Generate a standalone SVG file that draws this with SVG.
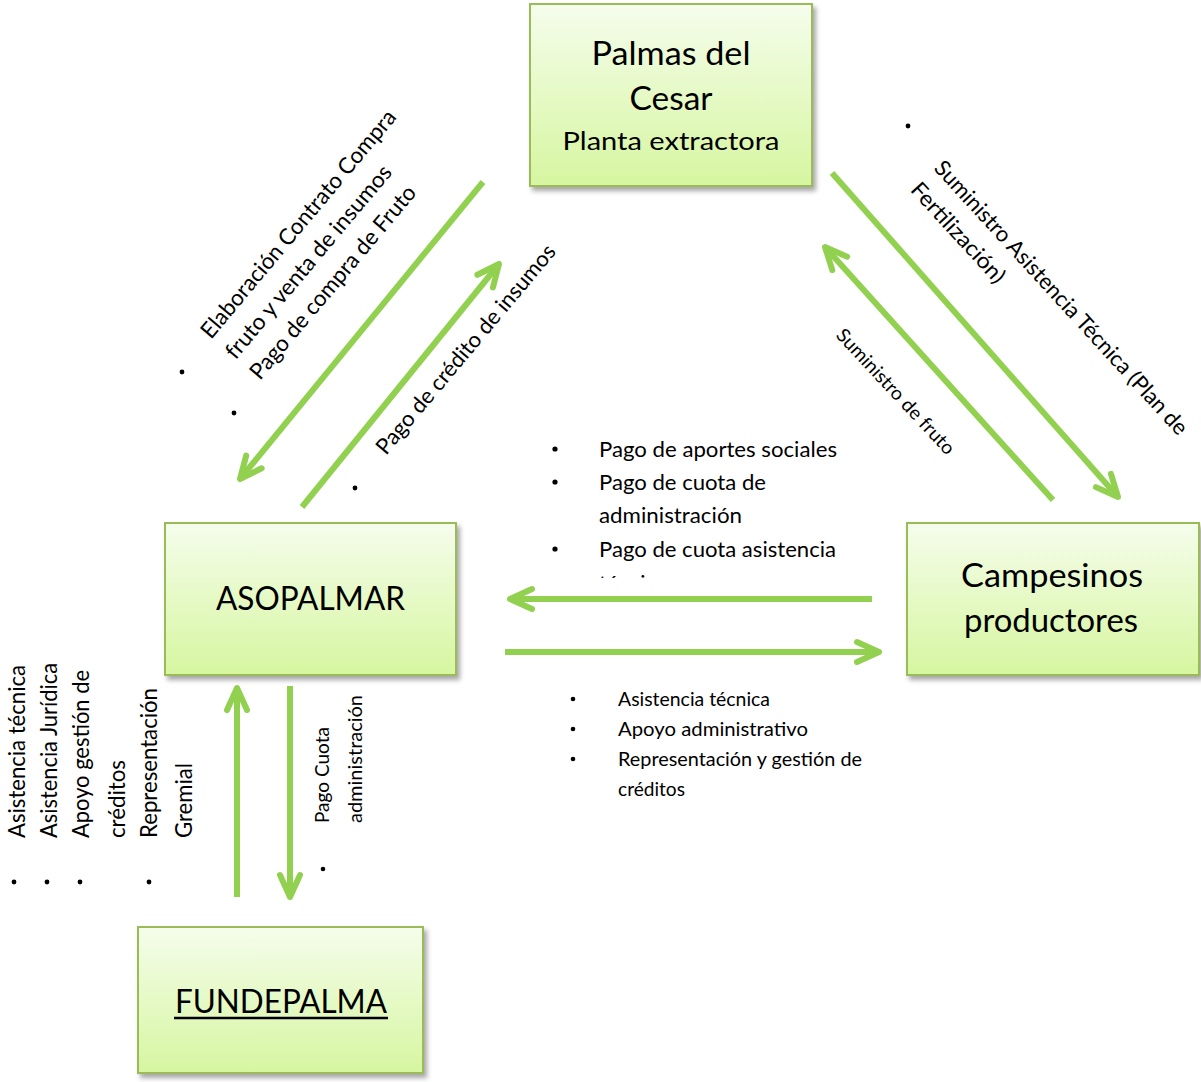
<svg xmlns="http://www.w3.org/2000/svg" width="1201" height="1082" viewBox="0 0 1201 1082">
<style>
.box{fill:url(#gf);stroke:#9bbb59;stroke-width:2;filter:url(#sh)}
.t{font-family:Lato,"Liberation Sans",sans-serif;fill:#000}
.big{font-size:33px;text-anchor:middle}
.conn{stroke:#92d050;stroke-width:6;fill:none;marker-end:url(#ah)}
.bul{fill:#000}
</style>
<defs>
<linearGradient id="gf" x1="0" y1="0" x2="0" y2="1">
<stop offset="0" stop-color="#f5fdec"/>
<stop offset="1" stop-color="#d6f6a0"/>
</linearGradient>
<filter id="sh" x="-10%" y="-10%" width="125%" height="130%">
<feDropShadow dx="3" dy="4" stdDeviation="2.5" flood-color="#000" flood-opacity="0.35"/>
</filter>
<marker id="ah" markerUnits="userSpaceOnUse" viewBox="-30 -16 36 32" markerWidth="36" markerHeight="32" refX="0" refY="0" orient="auto" overflow="visible">
<path d="M-22,-10 L0,0 L-22,10" fill="none" stroke="#92d050" stroke-width="6" stroke-linecap="round" stroke-linejoin="round"/>
</marker>
<clipPath id="clipMid"><rect x="500" y="420" width="400" height="158"/></clipPath>
</defs>

<g id="connectors">
<line class="conn" x1="483" y1="182" x2="240" y2="479"/>
<line class="conn" x1="302" y1="507" x2="499" y2="264"/>
<line class="conn" x1="832" y1="173" x2="1118" y2="497"/>
<line class="conn" x1="1053" y1="500" x2="825" y2="247"/>
<line class="conn" x1="872" y1="599" x2="510" y2="599"/>
<line class="conn" x1="505" y1="652" x2="879" y2="652"/>
<line class="conn" x1="237" y1="897" x2="237" y2="688"/>
<line class="conn" x1="290" y1="686" x2="290" y2="897"/>
</g>

<g id="node-palmas">
<rect class="box" x="530" y="4" width="282" height="182"/>
<text class="t big" x="671" y="65" textLength="159" lengthAdjust="spacingAndGlyphs">Palmas del</text>
<text class="t big" x="671" y="110" textLength="83" lengthAdjust="spacingAndGlyphs">Cesar</text>
<text class="t" x="671" y="150" font-size="25.5" text-anchor="middle" textLength="217" lengthAdjust="spacingAndGlyphs">Planta extractora</text>
</g>

<g id="node-asopalmar">
<rect class="box" x="165" y="523" width="291" height="152"/>
<text class="t big" x="310.5" y="610" textLength="189" lengthAdjust="spacingAndGlyphs">ASOPALMAR</text>
</g>

<g id="node-campesinos">
<rect class="box" x="907" y="523" width="292" height="152"/>
<text class="t big" x="1052" y="587" textLength="182" lengthAdjust="spacingAndGlyphs">Campesinos</text>
<text class="t big" x="1051" y="632" textLength="174" lengthAdjust="spacingAndGlyphs">productores</text>
</g>

<g id="node-fundepalma">
<rect class="box" x="138" y="927" width="285" height="146"/>
<text class="t big" x="281" y="1013" textLength="212" lengthAdjust="spacingAndGlyphs">FUNDEPALMA</text>
<line x1="174" y1="1018" x2="388" y2="1018" stroke="#000" stroke-width="2.4"/>
</g>

<g id="labels">
<text class="t" font-size="22.5" transform="translate(211,340) rotate(-50)" textLength="290" lengthAdjust="spacingAndGlyphs">Elaboración Contrato Compra</text>
<text class="t" font-size="22.5" transform="translate(235.5,360.6) rotate(-50)" textLength="245" lengthAdjust="spacingAndGlyphs">fruto y venta de insumos</text>
<text class="t" font-size="22.5" transform="translate(260,381) rotate(-50)" textLength="245" lengthAdjust="spacingAndGlyphs">Pago de compra de Fruto</text>
<text class="t" font-size="22" transform="translate(386,456) rotate(-50)" textLength="266" lengthAdjust="spacingAndGlyphs">Pago de crédito de insumos</text>
<circle class="bul" cx="182" cy="372" r="2.4"/>
<circle class="bul" cx="234" cy="413" r="2.4"/>
<circle class="bul" cx="355" cy="488" r="2.4"/>

<circle class="bul" cx="908" cy="126" r="2.4"/>
<text class="t" font-size="22" transform="translate(933,169) rotate(47.5)" textLength="363" lengthAdjust="spacingAndGlyphs">Suministro Asistencia Técnica (Plan de</text>
<text class="t" font-size="22" transform="translate(909.4,190.6) rotate(47.5)" textLength="128" lengthAdjust="spacingAndGlyphs">Fertilización)</text>
<text class="t" font-size="19" transform="translate(835,336) rotate(47)" textLength="164" lengthAdjust="spacingAndGlyphs">Suministro de fruto</text>

<g clip-path="url(#clipMid)">
<circle class="bul" cx="555" cy="449" r="2.6"/>
<circle class="bul" cx="555" cy="482" r="2.6"/>
<circle class="bul" cx="555" cy="549" r="2.6"/>
<text class="t" font-size="21.5" x="599" y="457" textLength="238" lengthAdjust="spacingAndGlyphs">Pago de aportes sociales</text>
<text class="t" font-size="21.5" x="599" y="490" textLength="167" lengthAdjust="spacingAndGlyphs">Pago de cuota de</text>
<text class="t" font-size="21.5" x="599" y="523" textLength="143" lengthAdjust="spacingAndGlyphs">administración</text>
<text class="t" font-size="21.5" x="599" y="557" textLength="237" lengthAdjust="spacingAndGlyphs">Pago de cuota asistencia</text>
<text class="t" font-size="21.5" x="599" y="591">técnica</text>
</g>

<circle class="bul" cx="573" cy="699" r="2.3"/>
<circle class="bul" cx="573" cy="729" r="2.3"/>
<circle class="bul" cx="573" cy="759" r="2.3"/>
<text class="t" font-size="19" x="618" y="706" textLength="152" lengthAdjust="spacingAndGlyphs">Asistencia técnica</text>
<text class="t" font-size="19" x="618" y="736" textLength="190" lengthAdjust="spacingAndGlyphs">Apoyo administrativo</text>
<text class="t" font-size="19" x="618" y="766" textLength="244" lengthAdjust="spacingAndGlyphs">Representación y gestión de</text>
<text class="t" font-size="19" x="618" y="796" textLength="67" lengthAdjust="spacingAndGlyphs">créditos</text>

<text class="t" font-size="22.5" transform="translate(25,838) rotate(-90)" textLength="173" lengthAdjust="spacingAndGlyphs">Asistencia técnica</text>
<text class="t" font-size="22.5" transform="translate(57,838) rotate(-90)" textLength="175" lengthAdjust="spacingAndGlyphs">Asistencia Jurídica</text>
<text class="t" font-size="22.5" transform="translate(89,838) rotate(-90)" textLength="168" lengthAdjust="spacingAndGlyphs">Apoyo gestión de</text>
<text class="t" font-size="22.5" transform="translate(125,838) rotate(-90)" textLength="78" lengthAdjust="spacingAndGlyphs">créditos</text>
<text class="t" font-size="22.5" transform="translate(157,838) rotate(-90)" textLength="150" lengthAdjust="spacingAndGlyphs">Representación</text>
<text class="t" font-size="22.5" transform="translate(192,838) rotate(-90)" textLength="75" lengthAdjust="spacingAndGlyphs">Gremial</text>
<circle class="bul" cx="14" cy="882" r="2.4"/>
<circle class="bul" cx="47" cy="882" r="2.4"/>
<circle class="bul" cx="80" cy="882" r="2.4"/>
<circle class="bul" cx="149" cy="882" r="2.4"/>

<text class="t" font-size="18.5" transform="translate(329,823) rotate(-90)" textLength="96" lengthAdjust="spacingAndGlyphs">Pago Cuota</text>
<text class="t" font-size="18.5" transform="translate(362,823) rotate(-90)" textLength="128" lengthAdjust="spacingAndGlyphs">administración</text>
<circle class="bul" cx="323" cy="869" r="2.3"/>
</g>
</svg>
